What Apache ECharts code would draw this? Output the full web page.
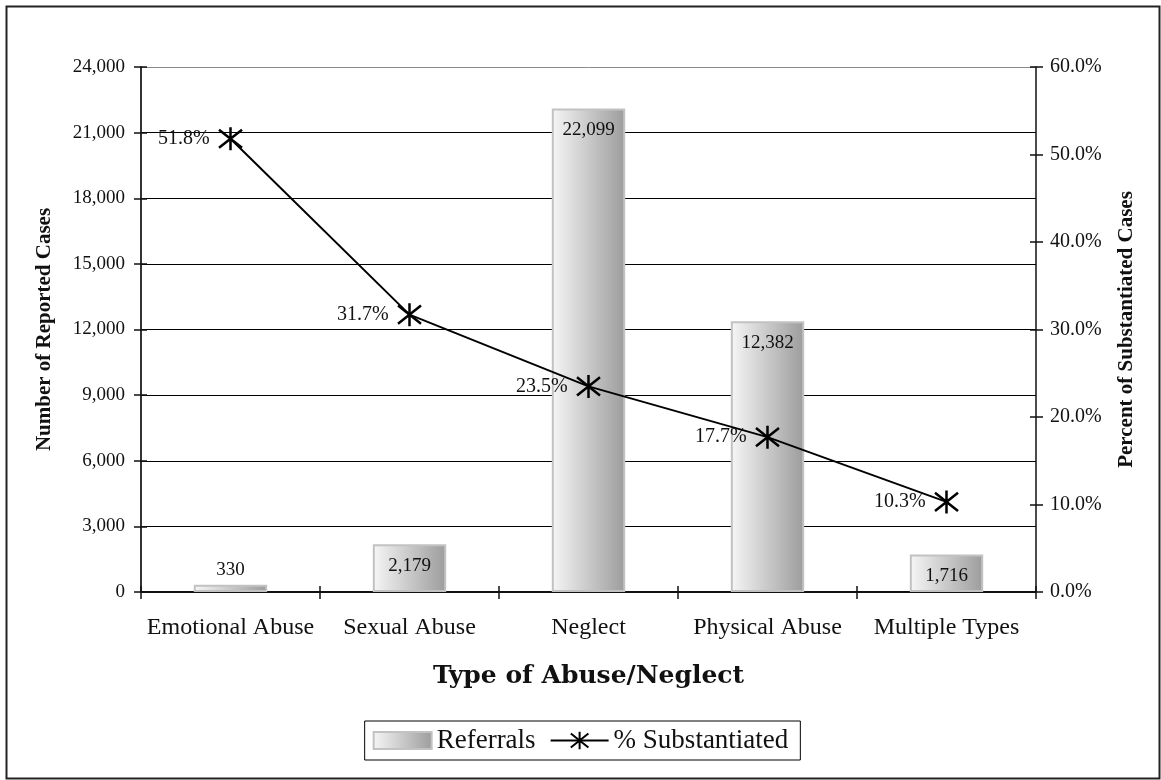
<!DOCTYPE html>
<html><head><meta charset="utf-8">
<script src="https://cdn.jsdelivr.net/npm/echarts@6/dist/echarts.min.js"></script>
<style>html,body{margin:0;padding:0;background:#fff}#c{width:1161px;height:780px}</style>
</head><body><div id="c"></div>
<script>
const categories = ['Emotional Abuse', 'Sexual Abuse', 'Neglect', 'Physical Abuse', 'Multiple Types'];
const referrals = [330, 2179, 22099, 12382, 1716];
const substantiated = [51.8, 31.7, 23.5, 17.7, 10.3];
const leftAxisMin = 0, leftAxisMax = 24000, leftAxisStep = 3000;
const rightAxisMin = 0, rightAxisMax = 60, rightAxisStep = 10;

const FONT = 'Liberation Serif';
const TXT = '#111';
const chart = echarts.init(document.getElementById('c'), null, {renderer: 'canvas'});
const barFill = new echarts.graphic.LinearGradient(0, 0, 1, 0, [
  {offset: 0, color: '#f6f6f6'}, {offset: 1, color: '#9c9c9c'}
]);
const star = 'path://M12,0L12,24M1.5,2.5L22.5,21.5M1.5,21.5L22.5,2.5';
const barIcon = 'path://M0,0M0,22M0,2.5L58,2.5L58,19.5L0,19.5Z';
const tickStyle = {color: '#111', width: 1.5};

chart.setOption({
  backgroundColor: '#fff',
  animation: false,
  textStyle: {fontFamily: FONT, color: TXT},
  graphic: [{
    type: 'rect', left: 4, top: 4, z: -1,
    shape: {width: 1153, height: 772},
    style: {fill: 'none', stroke: '#222', lineWidth: 2}
  }],
  grid: {left: 141, right: 125, top: 67, bottom: 188, containLabel: false},
  legend: {
    left: 'center', top: 721,
    padding: [6, 12, 6, 8],
    borderColor: '#000', borderWidth: 1,
    itemWidth: 58, itemHeight: 22, itemGap: 14,
    textStyle: {fontFamily: FONT, fontSize: 27, color: TXT},
    data: [{name: 'Referrals', icon: barIcon}, {name: '% Substantiated'}]
  },
  xAxis: [{
    type: 'category', data: categories, position: 'bottom',
    name: 'Type of Abuse/Neglect', nameLocation: 'middle', nameGap: 72,
    nameTextStyle: {fontFamily: 'DejaVu Serif', fontSize: 25, fontWeight: 'bold', color: TXT},
    axisLine: {lineStyle: {color: '#111', width: 2}},
    axisTick: {show: true, alignWithLabel: false, length: 7, lineStyle: tickStyle},
    axisLabel: {fontFamily: FONT, fontSize: 24, color: TXT, margin: 24, interval: 0}
  }, {
    type: 'category', data: categories, position: 'bottom',
    axisLine: {show: false}, axisLabel: {show: false}, splitLine: {show: false},
    axisTick: {show: true, inside: true, length: 6, lineStyle: tickStyle}
  }],
  yAxis: [{
    type: 'value', min: leftAxisMin, max: leftAxisMax, interval: leftAxisStep,
    name: 'Number of Reported Cases', nameLocation: 'middle', nameGap: 86, nameRotate: 90,
    nameTextStyle: {fontFamily: FONT, fontSize: 21, fontWeight: 'bold', color: TXT},
    axisLine: {show: true, lineStyle: {color: '#333', width: 2}},
    axisTick: {show: true, length: 7, lineStyle: tickStyle},
    axisLabel: {fontFamily: FONT, fontSize: 19, color: TXT, margin: 16,
      formatter: v => v.toLocaleString('en-US')},
    splitLine: {show: true, lineStyle: {width: 1,
      color: ['#000', '#000', '#000', '#000', '#000', '#000', '#000', '#000', '#8a8a8a']}}
  }, {
    type: 'value', min: rightAxisMin, max: rightAxisMax, interval: rightAxisStep, position: 'right',
    name: 'Percent of Substantiated Cases', nameLocation: 'middle', nameGap: 80, nameRotate: 90,
    nameTextStyle: {fontFamily: FONT, fontSize: 21, fontWeight: 'bold', color: TXT},
    axisLine: {show: true, lineStyle: {color: '#111', width: 1.5}},
    axisTick: {show: true, length: 7, lineStyle: tickStyle},
    axisLabel: {fontFamily: FONT, fontSize: 20, color: TXT, margin: 14,
      formatter: v => v.toFixed(1) + '%'},
    splitLine: {show: false}
  }, {
    type: 'value', min: leftAxisMin, max: leftAxisMax, interval: leftAxisStep, position: 'left',
    axisLine: {show: false}, axisLabel: {show: false}, splitLine: {show: false},
    axisTick: {show: true, inside: true, length: 6, lineStyle: tickStyle}
  }, {
    type: 'value', min: rightAxisMin, max: rightAxisMax, interval: rightAxisStep, position: 'right',
    axisLine: {show: false}, axisLabel: {show: false}, splitLine: {show: false},
    axisTick: {show: true, inside: true, length: 6, lineStyle: tickStyle}
  }],
  series: [{
    name: 'Referrals', type: 'bar', yAxisIndex: 0, barWidth: '41%',
    itemStyle: {color: barFill, borderColor: '#c2c2c2', borderWidth: 2},
    label: {show: true, position: 'insideTop', distance: 12, fontFamily: FONT, fontSize: 19, color: TXT,
      formatter: p => p.value.toLocaleString('en-US')},
    data: referrals.map(v => v < 1000 ? {value: v, label: {position: 'top', distance: 5}} : v),
    z: 2
  }, {
    name: '% Substantiated', type: 'line', yAxisIndex: 1,
    symbol: star, symbolSize: 23,
    lineStyle: {color: '#000', width: 2},
    itemStyle: {color: '#000', borderColor: '#000', borderWidth: 2.5},
    label: {show: true, position: 'left', distance: 8, fontFamily: FONT, fontSize: 20, color: TXT,
      formatter: p => p.value.toFixed(1) + '%'},
    data: substantiated,
    z: 5
  }]
});
</script></body></html>
